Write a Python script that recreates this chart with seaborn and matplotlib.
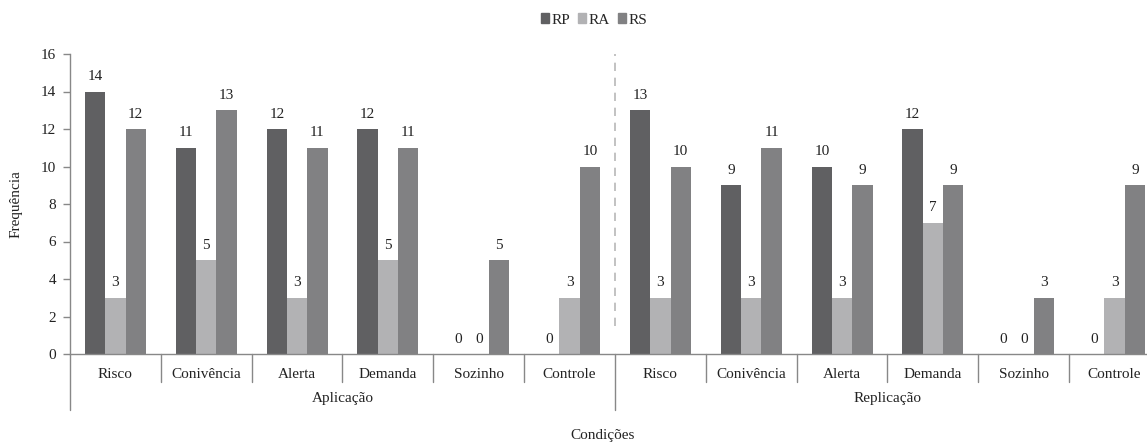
import pandas as pd
import matplotlib
matplotlib.use('Agg')
import matplotlib.pyplot as plt
import seaborn as sns

groups = ['Aplicação', 'Replicação']
conditions = ['Risco', 'Conivência', 'Alerta', 'Demanda', 'Sozinho', 'Controle']
series = ['RP', 'RA', 'RS']

rp = [14, 11, 12, 12, 0, 0, 13, 9, 10, 12, 0, 0]
ra = [3, 5, 3, 5, 0, 3, 3, 3, 3, 7, 0, 3]
rs = [12, 13, 11, 11, 5, 10, 10, 11, 9, 9, 3, 9]

colors = ['#606062', '#b2b2b4', '#818183']

keys = [g + '|' + c for g in groups for c in conditions]
rows = []
for name, vals in zip(series, [rp, ra, rs]):
    for k, v in zip(keys, vals):
        rows.append({'cond': k, 'serie': name, 'freq': v})
df = pd.DataFrame(rows)

sns.set_style('white')
plt.rcParams['font.family'] = ['Liberation Serif', 'DejaVu Serif']
plt.rcParams['font.size'] = 11

fig = plt.figure(figsize=(11.47, 4.43), dpi=100)
ax = fig.add_axes([70 / 1147, 1 - 354 / 443, 1090 / 1147, 300 / 443])

sns.barplot(data=df, x='cond', y='freq', hue='serie', order=keys,
            hue_order=series, palette=colors, width=0.67, gap=0,
            saturation=1, ax=ax, legend=False, edgecolor='none')

for cont in ax.containers:
    ax.bar_label(cont, padding=6, fontsize=11, color='#222222')

ax.set_ylim(0, 16)
ax.set_xlim(-0.5, 11.5)
ax.set_yticks(range(0, 17, 2))
ax.set_xticks(range(12))
ax.set_xticklabels(conditions * 2)
ax.tick_params(axis='x', length=0, pad=10, labelsize=11, colors='#222222')
ax.tick_params(axis='y', length=5, direction='out', left=True, width=1,
               color='#888888', labelsize=11, labelcolor='#222222', pad=5)
ax.set_xlabel('')
ax.set_ylabel('Frequência', fontsize=11, color='#222222')
ax.yaxis.set_label_coords(-0.044, 0.5)

for side in ['top', 'right']:
    ax.spines[side].set_visible(False)
for side in ['left', 'bottom']:
    ax.spines[side].set_color('#888888')
    ax.spines[side].set_linewidth(1)

trans = ax.get_xaxis_transform()
for i in range(12):
    xb = i - 0.5
    if i == 0 or i == 6:
        ax.plot([xb, xb], [0, -0.187], transform=trans, color='#888888',
                lw=1, clip_on=False)
    else:
        ax.plot([xb, xb], [0, -0.093], transform=trans, color='#888888',
                lw=1, clip_on=False)
ax.plot([11.5, 11.5], [0, -0.187], transform=trans, color='#888888',
        lw=1, clip_on=False)

for gi, g in enumerate(groups):
    ax.text(gi * 6 + 2.5, -0.147, g, transform=trans, ha='center',
            va='center', fontsize=11, color='#222222')

ax.plot([5.5, 5.5], [1.5, 16], color='#b8b8b8', lw=1.2,
        linestyle=(0, (5, 4)))

fig.text(603 / 1147, 1 - 436 / 443, 'Condições', ha='center', va='center',
         fontsize=11, color='#222222')

handles = [plt.Rectangle((0, 0), 1, 1, color=c) for c in colors]
fig.legend(handles, series, loc='center', bbox_to_anchor=(594 / 1147, 1 - 20 / 443),
           ncol=3, frameon=False, handlelength=0.55, handleheight=0.55,
           handletextpad=0.15, columnspacing=0.5, fontsize=11)

fig.savefig('out.png', dpi=100)
